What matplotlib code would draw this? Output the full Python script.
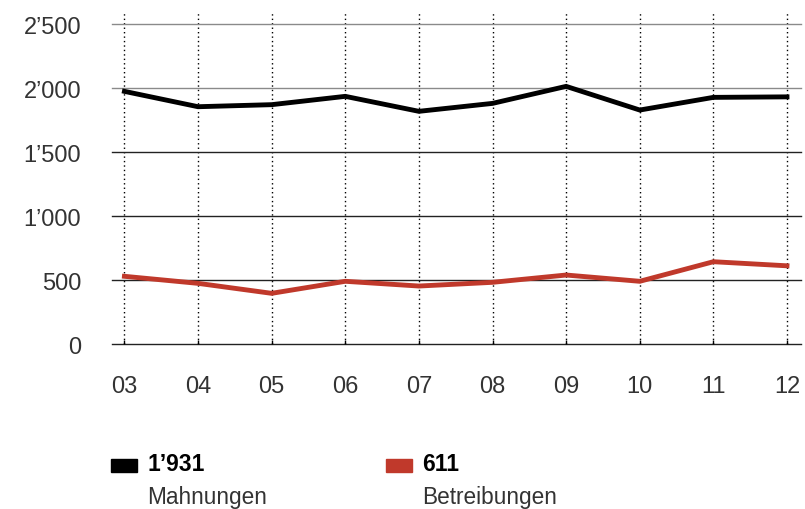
import matplotlib.pyplot as plt
from matplotlib.patches import Rectangle

years = ['03', '04', '05', '06', '07', '08', '09', '10', '11', '12']
mahnungen = [1974, 1854, 1870, 1935, 1818, 1880, 2013, 1828, 1927, 1931]
betreibungen = [529, 474, 396, 490, 453, 482, 539, 490, 643, 611]
yticks = [0, 500, 1000, 1500, 2000, 2500]
ytick_labels = ['0', '500', '1’000', '1’500', '2’000', '2’500']

BLACK = '#000000'
RED = '#c0392b'
TXT = '#333333'

plt.rcParams['font.family'] = ['Liberation Sans', 'DejaVu Sans']


def main():
    fig = plt.figure(figsize=(8.05, 5.10), dpi=100)
    ax = fig.add_axes([0.139, 0.3235, 0.856, 0.649])
    x = list(range(len(years)))

    for xi in x:
        ax.axvline(xi, color='black', ls=(0, (1, 2.2)), lw=1.0, zorder=1)
    for v in yticks:
        c = '#8a8a8a' if v >= 2000 else '#222222'
        ax.axhline(v, color=c, lw=1.0, zorder=1, clip_on=False)

    ax.plot(x, mahnungen, color=BLACK, lw=3.5, solid_joinstyle='miter', zorder=3)
    ax.plot(x, betreibungen, color=RED, lw=3.5, solid_joinstyle='miter', zorder=3)

    ax.set_xlim(-0.17, 9.19)
    ax.set_ylim(0, 2586)
    ax.set_xticks(x)
    ax.set_xticklabels(years)
    ax.set_yticks(yticks)
    ax.set_yticklabels(ytick_labels)
    ax.tick_params(axis='x', length=3, width=1, color='black', pad=22,
                   labelsize=17, labelcolor=TXT, direction='in')
    ax.tick_params(axis='y', length=0, pad=22, labelsize=17, labelcolor=TXT)
    for s in ax.spines.values():
        s.set_visible(False)

    # legend
    def px(xp, yp):
        return xp / 805, 1 - yp / 510

    for x0, col, val, name in [(111, BLACK, '1’931', 'Mahnungen'),
                               (386, RED, '611', 'Betreibungen')]:
        rx, ry = px(x0, 473)
        fig.patches.append(Rectangle((rx, ry), 26 / 805, 13 / 510,
                                     transform=fig.transFigure, color=col))
        tx, ty = px(x0 + 36, 465)
        fig.text(tx, ty, val, fontsize=16.5, fontweight='bold', color='black',
                 va='center', ha='left')
        tx, ty = px(x0 + 36, 498)
        fig.text(tx, ty, name, fontsize=16.3, color=TXT, va='center', ha='left')

    fig.savefig('out.png', dpi=100)


main()
